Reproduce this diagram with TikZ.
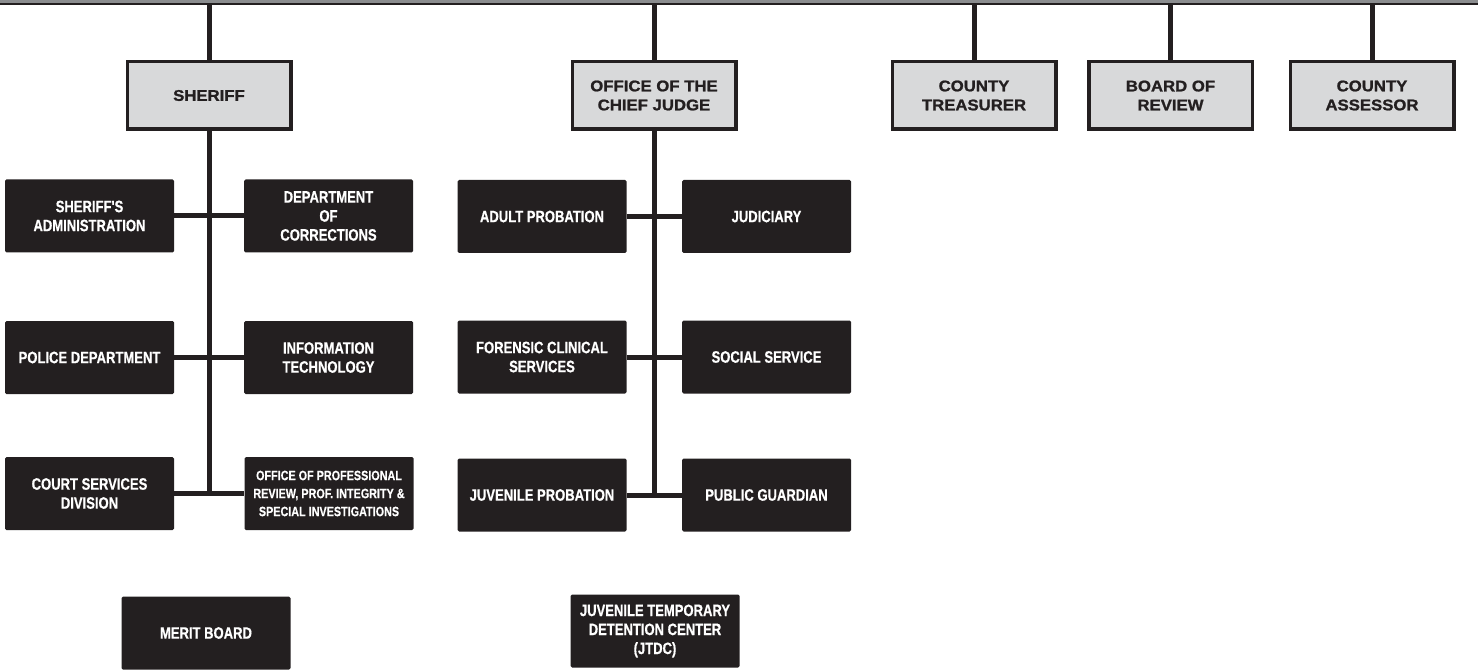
\documentclass[tikz,border=0pt]{standalone}
\usepackage{fontspec}
\setmainfont{Liberation Sans}
\newfontfamily\headfont[FakeStretch=1.08, BoldFeatures={FakeBold=1.2}]{Liberation Sans}
\newfontfamily\unitfont[FakeStretch=0.79, BoldFeatures={FakeBold=0.6}]{Liberation Sans}
\newfontfamily\smallunitfont[FakeStretch=0.8, BoldFeatures={FakeBold=0.5}]{Liberation Sans}
\usepackage{tikz}
\usetikzlibrary{positioning, calc}
\definecolor{darkline}{HTML}{231F20}
\definecolor{headgray}{HTML}{D8D9DA}
\definecolor{bargray}{HTML}{8B8D8F}
\tikzset{
	headnode/.style={
			draw=darkline,
			line width=3.5pt,
			fill=headgray,
			text=darkline,
			minimum width=163.5pt,
			minimum height=67.5pt,
			inner sep=0pt,
			align=center,
			font=\headfont\bfseries\fontsize{15.5}{19}\selectfont
		},
	unitnode/.style={
			fill=darkline,
			rounded corners=1.5pt,
			text=white,
			minimum width=169pt,
			minimum height=73pt,
			inner sep=0pt,
			align=center,
			font=\unitfont\bfseries\fontsize{16.5}{19}\selectfont
		},
	smallunitnode/.style={
			unitnode,
			font=\smallunitfont\bfseries\fontsize{13.5}{18}\selectfont
		},
	topbar/.style={
			fill=bargray,
			minimum width=1478pt,
			minimum height=4pt,
			inner sep=0pt
		},
	link/.style={
			draw=darkline,
			line width=5pt
		}
}

\begin{document}
\begin{tikzpicture}[x=1pt, y=-1pt]
        \useasboundingbox (0,0) rectangle (1478,671);

        % bar along the top
        \node[topbar] at (739,2) (bar) {};
        \draw[darkline, line width=1.5pt] (bar.south west) -- (bar.south east);

        % heads
        \node[headnode] at (209,95.5) (sheriff) {SHERIFF};
        \node[headnode] at (654,95.5) (chief) {OFFICE OF THE\\CHIEF JUDGE};
        \node[headnode] at (974,95.5) (treasurer) {COUNTY\\TREASURER};
        \node[headnode] at (1170.5,95.5) (review) {BOARD OF\\REVIEW};
        \node[headnode] at (1372,95.5) (assessor) {COUNTY\\ASSESSOR};

        \foreach \h in {sheriff, chief, treasurer, review, assessor}
          \draw[link] (bar.south -| \h.north) -- (\h.north);

        % sheriff units
        \node[unitnode] at (89.5,216) (admin) {SHERIFF'S\\ADMINISTRATION};
        \node[unitnode] at (328.5,216) (corrections) {DEPARTMENT\\OF\\CORRECTIONS};
        \node[unitnode] at (89.5,357.5) (police) {POLICE DEPARTMENT};
        \node[unitnode] at (328.5,357.5) (infotech) {INFORMATION\\TECHNOLOGY};
        \node[unitnode] at (89.5,493.5) (courts) {COURT SERVICES\\DIVISION};
        \node[smallunitnode] at (329,493.5) (review2) {OFFICE OF PROFESSIONAL\\REVIEW, PROF. INTEGRITY \&\\SPECIAL INVESTIGATIONS};
        \node[unitnode] at (206,633) (merit) {MERIT BOARD};

        \coordinate (sheriffend) at (209,493.5);
        \draw[link] (sheriff.south) -- (sheriffend);
        \draw[link] (admin.east) -- (corrections.west);
        \draw[link] (police.east) -- (infotech.west);
        \draw[link] (courts.east) -- (review2.west);

        % chief judge units
        \node[unitnode] at (542,216.5) (adult) {ADULT PROBATION};
        \node[unitnode] at (766.5,216.5) (judiciary) {JUDICIARY};
        \node[unitnode] at (542,357) (forensic) {FORENSIC CLINICAL\\SERVICES};
        \node[unitnode] at (766.5,357) (social) {SOCIAL SERVICE};
        \node[unitnode] at (542,495) (juvenile) {JUVENILE PROBATION};
        \node[unitnode] at (766.5,495) (guardian) {PUBLIC GUARDIAN};
        \node[unitnode] at (655,631) (jtdc) {JUVENILE TEMPORARY\\DETENTION CENTER\\(JTDC)};

        \coordinate (chiefend) at (654,495);
        \draw[link] (chief.south) -- (chiefend);
        \draw[link] (adult.east) -- (judiciary.west);
        \draw[link] (forensic.east) -- (social.west);
        \draw[link] (juvenile.east) -- (guardian.west);
\end{tikzpicture}
\end{document}
